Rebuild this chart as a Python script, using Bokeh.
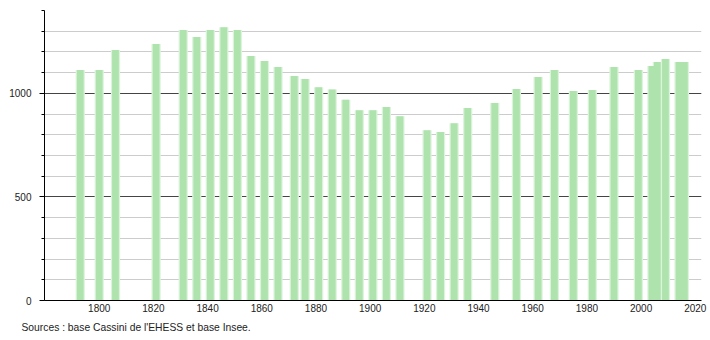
from bokeh.plotting import figure
from bokeh.models import Range1d, SingleIntervalTicker, FixedTicker, Title, ColumnDataSource
from bokeh.embed import file_html
from bokeh.resources import INLINE

years = [1793, 1800, 1806, 1821, 1831, 1836, 1841, 1846, 1851, 1856, 1861, 1866,
         1872, 1876, 1881, 1886, 1891, 1896, 1901, 1906, 1911, 1921, 1926, 1931,
         1936, 1946, 1954, 1962, 1968, 1975, 1982, 1990, 1999, 2004, 2006, 2009,
         2014, 2016]
population = [1113, 1113, 1209, 1238, 1306, 1272, 1306, 1319, 1306, 1180, 1156, 1127,
              1084, 1069, 1030, 1019, 969, 919, 919, 934, 890, 822, 813, 856,
              929, 953, 1021, 1079, 1113, 1011, 1016, 1127, 1113, 1132, 1151, 1166,
              1151, 1151]
x_ticks = [1800, 1820, 1840, 1860, 1880, 1900, 1920, 1940, 1960, 1980, 2000, 2020]
source_text = "Sources : base Cassini de l'EHESS et base Insee."

FONT = "Liberation Sans"

src = ColumnDataSource(dict(year=years, pop=population))

p = figure(width=710, height=340, output_backend="svg", toolbar_location=None,
           x_range=Range1d(1779.8, 2022.3), y_range=Range1d(0, 1400),
           min_border_left=44, min_border_right=9, min_border_top=10,
           min_border_bottom=40)
p.outline_line_color = None
p.background_fill_color = "white"
p.border_fill_color = "white"

# soft halo + bars
p.vbar(x="year", top="pop", width=3.4, bottom=0, source=src,
       fill_color="#dcf3dc", line_color=None)
p.vbar(x="year", top="pop", width=2.5, bottom=0, source=src,
       fill_color="#aee3ae", line_color=None)

# y axis
yt = SingleIntervalTicker(interval=500, num_minor_ticks=5)
p.yaxis.ticker = yt
p.ygrid.ticker = yt
p.ygrid.grid_line_color = "#444444"
p.ygrid.minor_grid_line_color = "#cccccc"
p.ygrid.level = "underlay"
p.yaxis.axis_line_color = "black"
p.yaxis.major_tick_line_color = "black"
p.yaxis.minor_tick_line_color = "black"
p.yaxis.major_tick_out = 5
p.yaxis.major_tick_in = 0
p.yaxis.minor_tick_out = 3
p.yaxis.minor_tick_in = 0
p.yaxis.major_label_standoff = 8
p.yaxis.major_label_text_font = FONT
p.yaxis.major_label_text_font_size = "10px"
p.yaxis.major_label_text_color = "#222222"

# x axis
p.xaxis.ticker = FixedTicker(ticks=x_ticks)
p.xgrid.grid_line_color = None
p.xaxis.axis_line_color = "black"
p.xaxis.major_tick_line_color = None
p.xaxis.minor_tick_line_color = None
p.xaxis.major_tick_out = 0
p.xaxis.major_tick_in = 0
p.xaxis.major_label_standoff = 3
p.xaxis.major_label_text_font = FONT
p.xaxis.major_label_text_font_size = "10px"
p.xaxis.major_label_text_color = "#222222"

title = Title(text=source_text, align="left", offset=-23, text_font=FONT,
              text_font_size="10.3px", text_font_style="normal",
              text_color="#222222", standoff=10)
p.add_layout(title, "below")

open("out.html", "w").write(file_html(p, INLINE))
